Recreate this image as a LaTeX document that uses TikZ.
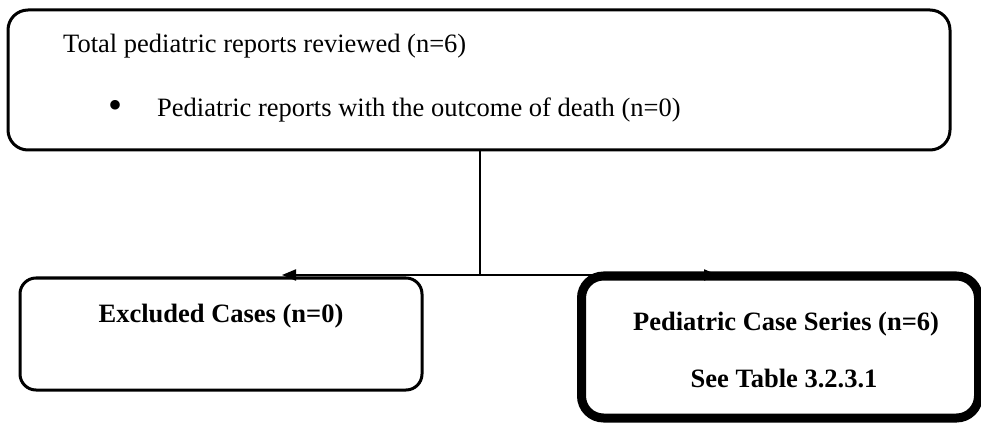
\documentclass[tikz,border=0pt]{standalone}
\usepackage{fontspec}
\setmainfont{Liberation Serif}
\usetikzlibrary{arrows.meta}
\begin{document}
\begin{tikzpicture}[x=1pt,y=-1pt,
  box/.style={draw=black,rounded corners=20pt,inner sep=0pt,fill=white},
  txt/.style={inner sep=0pt,anchor=base west,font=\fontsize{26.5}{30}\selectfont},
  btxt/.style={inner sep=0pt,anchor=base,font=\fontsize{26.5}{30}\selectfont\bfseries},
  conn/.style={draw=black,line width=2pt},
  arr/.style={conn,-{Triangle[length=14pt,width=11pt]}}]
\fill[white] (0,0) rectangle (981,427);
\useasboundingbox (0,0) rectangle (981,427);
% boxes
\node[box,line width=3pt,minimum width=942pt,minimum height=140pt] (top) at (479,80) {};
\node[box,line width=3pt,rounded corners=16pt,minimum width=402pt,minimum height=112pt] (excl) at (221,334) {};
\node[box,line width=9pt,rounded corners=22pt,minimum width=397pt,minimum height=142pt] (series) at (780,347) {};
% texts
\node[txt] (t1) at (63,53) {Total pediatric reports reviewed (n=6)};
\node[inner sep=0pt,font=\fontsize{40}{40}\selectfont] (bul) at (116,109) {•};
\node[txt] (t2) at (157,117) {Pediatric reports with the outcome of death (n=0)};
\node[btxt] (e1) at (221,322) {Excluded Cases (n=0)};
\node[btxt] (s1) at (786,330) {Pediatric Case Series (n=6)};
\node[btxt] (s2) at (784,387) {See Table 3.2.3.1};
% connectors
\coordinate (j) at (480,275);
\coordinate (lt) at (282,275);
\coordinate (rt) at (718,275);
\draw[conn] (top.south -| j) -- (j);
\draw[arr] (j) -- (lt);
\draw[arr] (j) -- (rt);
\end{tikzpicture}
\end{document}
